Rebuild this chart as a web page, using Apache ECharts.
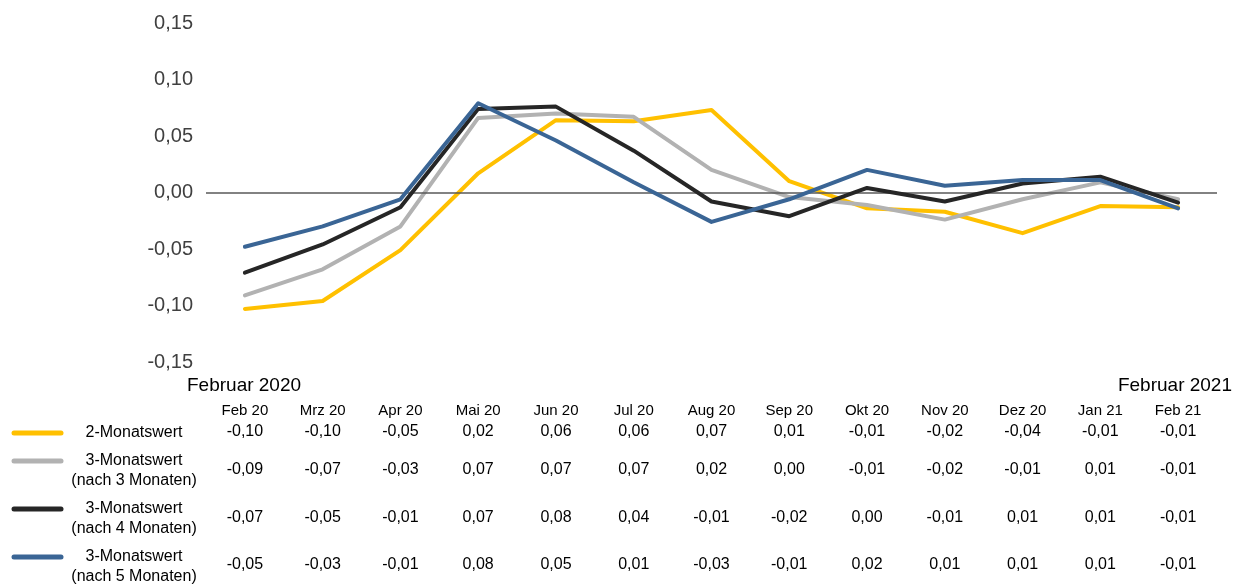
<!DOCTYPE html>
<html>
<head>
    <meta charset="utf-8">
    <title>Monatswerte</title>
    <script src="https://cdn.jsdelivr.net/npm/echarts@6/dist/echarts.min.js"></script>
    <style>
        html, body { margin: 0; padding: 0; background: #fff; }
    </style>
</head>
<body>
    <div id="main" style="width: 1234px;height:584px;"></div>
    <script type="text/javascript">
        // Monate (Kategorien)
        var months = ['Feb 20', 'Mrz 20', 'Apr 20', 'Mai 20', 'Jun 20', 'Jul 20', 'Aug 20',
                      'Sep 20', 'Okt 20', 'Nov 20', 'Dez 20', 'Jan 21', 'Feb 21'];
        var yTicks = [-0.15, -0.10, -0.05, 0, 0.05, 0.10, 0.15];

        // Werte
        var zweiMonat = [-0.103, -0.096, -0.051, 0.017, 0.064, 0.063, 0.073, 0.010, -0.014, -0.017, -0.036, -0.012, -0.013];
        var dreiNach3 = [-0.091, -0.068, -0.030, 0.066, 0.070, 0.067, 0.020, -0.004, -0.011, -0.024, -0.006, 0.009, -0.006];
        var dreiNach4 = [-0.071, -0.046, -0.013, 0.074, 0.076, 0.037, -0.008, -0.021, 0.004, -0.008, 0.008, 0.014, -0.009];
        var dreiNach5 = [-0.048, -0.030, -0.006, 0.079, 0.046, 0.009, -0.026, -0.006, 0.020, 0.006, 0.011, 0.011, -0.014];

        var seriesNames = ['2-Monatswert', '3-Monatswert (nach 3 Monaten)', '3-Monatswert (nach 4 Monaten)', '3-Monatswert (nach 5 Monaten)'];
        var legendLines = [['2-Monatswert'], ['3-Monatswert', '(nach 3 Monaten)'], ['3-Monatswert', '(nach 4 Monaten)'], ['3-Monatswert', '(nach 5 Monaten)']];
        var colors = ['#FFC000', '#B2B2B2', '#262626', '#3A6595'];
        var rows = [zweiMonat, dreiNach3, dreiNach4, dreiNach5];

        function fmt(v) {
            var r = Math.round(v * 100) / 100;
            return r.toFixed(2).replace('.', ',');
        }

        var myChart = echarts.init(document.getElementById('main'));

        var fontFam = 'Liberation Sans, Arial, sans-serif';

        // Tabellenzeilen als zusaetzliche x-Achsen unter dem Diagramm
        var rowCenters = [432, 470, 518, 565];
        var xAxes = [{
            type: 'category',
            data: months,
            position: 'bottom',
            offset: 40,
            axisLine: { show: false },
            axisTick: { show: false },
            axisLabel: { interval: 0, margin: 0, color: '#000', fontSize: 15, lineHeight: 18, fontFamily: fontFam }
        }];
        rows.forEach(function (row, r) {
            xAxes.push({
                type: 'category',
                data: months,
                position: 'bottom',
                offset: rowCenters[r] - 9 - 362,
                axisLine: { show: false },
                axisTick: { show: false },
                axisLabel: {
                    interval: 0, margin: 0, color: '#000', fontSize: 16, lineHeight: 18, fontFamily: fontFam,
                    formatter: function (val, idx) { return fmt(row[idx]); }
                }
            });
        });

        // Legende links neben der Tabelle
        var legendY = [433, 461, 509, 557];
        var graphics = [];
        legendLines.forEach(function (lines, i) {
            graphics.push({
                type: 'line',
                shape: { x1: 14, y1: legendY[i], x2: 61, y2: legendY[i] },
                style: { stroke: colors[i], lineWidth: 5, lineCap: 'round' }
            });
            lines.forEach(function (t, k) {
                graphics.push({
                    type: 'text',
                    x: 134, y: legendY[i] + k * 20,
                    style: { text: t, fill: '#000', font: '16px ' + fontFam, textAlign: 'center', textVerticalAlign: 'middle' }
                });
            });
        });
        graphics.push({
            type: 'text', x: 187, y: 386,
            style: { text: 'Februar 2020', fill: '#000', font: '19px ' + fontFam, textAlign: 'left', textVerticalAlign: 'middle' }
        });
        graphics.push({
            type: 'text', x: 1232, y: 386,
            style: { text: 'Februar 2021', fill: '#000', font: '19px ' + fontFam, textAlign: 'right', textVerticalAlign: 'middle' }
        });

        var series = rows.map(function (row, i) {
            var s = {
                name: seriesNames[i],
                type: 'line',
                data: row,
                symbol: 'none',
                smooth: false,
                z: 3 + i,
                lineStyle: { color: colors[i], width: 4, cap: 'round', join: 'round' },
                itemStyle: { color: colors[i] },
                emphasis: { disabled: true }
            };
            if (i === 0) {
                s.markLine = {
                    silent: true,
                    symbol: 'none',
                    label: { show: false },
                    lineStyle: { color: '#595959', width: 1.5, type: 'solid' },
                    data: [{ yAxis: 0 }]
                };
            }
            return s;
        });

        var option = {
            animation: false,
            textStyle: { fontFamily: fontFam },
            grid: { left: 206, right: 17, top: 23, bottom: 222 },
            xAxis: xAxes,
            yAxis: {
                type: 'value',
                min: yTicks[0],
                max: yTicks[yTicks.length - 1],
                interval: 0.05,
                axisLine: { show: false },
                axisTick: { show: false },
                splitLine: { show: false },
                axisLabel: {
                    margin: 13, color: '#404040', fontSize: 20, fontFamily: fontFam,
                    formatter: function (v) { return fmt(v); }
                }
            },
            graphic: graphics,
            series: series
        };
        myChart.setOption(option);
    </script>
</body>
</html>
